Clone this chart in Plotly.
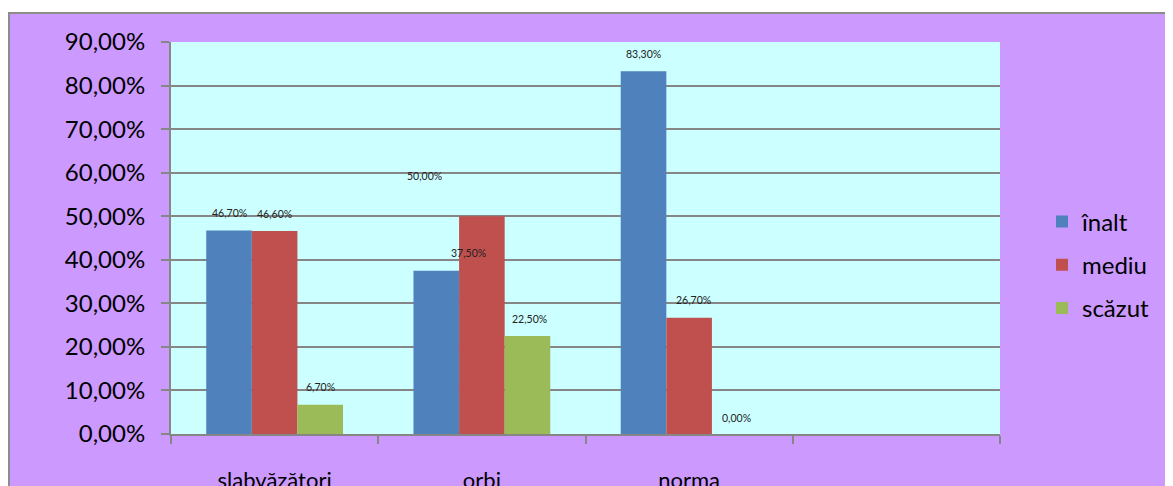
import plotly.graph_objects as go

categories = ["slabvăzători", "orbi", "norma", " "]
series_names = ["înalt", "mediu", "scăzut"]
inalt = [0.467, 0.375, 0.833]
mediu = [0.466, 0.500, 0.267]
scazut = [0.067, 0.225, 0.000]
label_texts = [["46,70%", "37,50%", "83,30%"],
               ["46,60%", "50,00%", "26,70%"],
               ["6,70%", "22,50%", "0,00%"]]
colors = ["#4F81BD", "#C0504D", "#9BBB59"]

# page body has an 8px margin, so the figure is sized to fit the window
W, H = 1165, 478
L, R, T, B = 163, 173, 34, 52
plot_w = W - L - R
plot_h = H - T - B
bargap = 0.34
bar_px = plot_w / 4 * (1 - bargap) / 3

# manual label nudges (px) as in reference: [series][category] -> (dx, dy)
nudges = [[(0, 0), (32, 0), (0, 0)],
          [(0, 0), (-57, 23), (4, 0)],
          [(0, 0), (2, 0), (2, -1)]]

fig = go.Figure()
all_vals = [inalt, mediu, scazut]
for i, (name, vals) in enumerate(zip(series_names, all_vals)):
    fig.add_trace(go.Bar(
        x=categories[:3], y=vals, name=name,
        marker=dict(color=colors[i], line=dict(width=0)),
        legendgroup=name,
    ))

annotations = []
for i, vals in enumerate(all_vals):
    for j, v in enumerate(vals):
        dx, dy = nudges[i][j]
        annotations.append(dict(
            x=categories[j], y=v, xref="x", yref="y",
            text=label_texts[i][j], showarrow=False,
            xshift=(i - 1) * bar_px + dx, yshift=17.5 + dy,
            font=dict(family="Lato", size=10.5, color="#222222"),
            xanchor="center", yanchor="middle",
        ))

def px_x(p):
    return (p - L) / plot_w

def px_y(p):
    return (H - B - p) / plot_h

shapes = [
    # white top strip
    dict(type="rect", xref="paper", yref="paper", x0=px_x(-5), x1=px_x(W + 5),
         y0=px_y(5), y1=px_y(-5), fillcolor="white", line=dict(width=0), layer="below"),
    # chart border
    dict(type="rect", xref="paper", yref="paper", x0=px_x(1), x1=px_x(W + 20),
         y0=px_y(H + 20), y1=px_y(5), fillcolor="rgba(0,0,0,0)",
         line=dict(color="#8C8C8C", width=2), layer="below"),
]

fig.update_layout(
    width=W, height=H,
    margin=dict(l=L, r=R, t=T, b=B, autoexpand=False),
    paper_bgcolor="#CC99FF",
    plot_bgcolor="#CCFFFF",
    barmode="group", bargap=bargap, bargroupgap=0,
    separators=", ",
    font=dict(family="Lato", color="black"),
    showlegend=True,
    legend=dict(x=px_x(1034), y=px_y(257), xanchor="left", yanchor="middle",
                bgcolor="rgba(0,0,0,0)", font=dict(size=24, family="Lato"),
                traceorder="grouped", tracegroupgap=9),
    annotations=annotations,
    shapes=shapes,
    xaxis=dict(
        type="category", categoryorder="array", categoryarray=categories,
        range=[-0.5, 3.5], tickson="boundaries", ticks="outside", ticklen=8,
        tickcolor="#868686", tickwidth=2,
        showline=True, linecolor="#868686", linewidth=2,
        showgrid=False, tickfont=dict(size=22, family="Lato"),
        ticklabelstandoff=26, automargin=False,
    ),
    yaxis=dict(
        range=[0, 0.9], dtick=0.1, tick0=0, tickformat=".2%",
        ticks="outside", ticklen=8, tickcolor="#868686", tickwidth=2,
        showline=True, linecolor="#868686", linewidth=2,
        showgrid=True, gridcolor="#868686", gridwidth=2,
        zeroline=False, tickfont=dict(size=24, family="Lato"),
        ticklabelstandoff=11, automargin=False,
    ),
)

fig.write_html("out.html")
